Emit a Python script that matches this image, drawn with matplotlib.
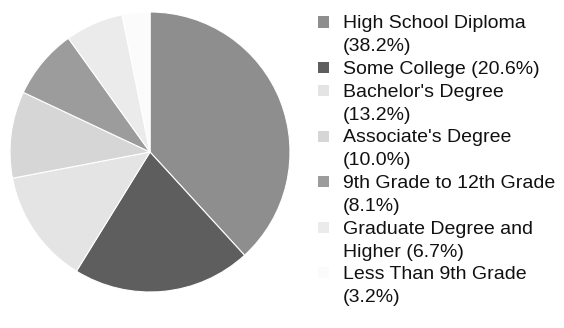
import matplotlib
matplotlib.use("Agg")
import matplotlib.pyplot as plt
from matplotlib.patches import Rectangle

categories = [
    "High School Diploma\n(38.2%)",
    "Some College (20.6%)",
    "Bachelor's Degree\n(13.2%)",
    "Associate's Degree\n(10.0%)",
    "9th Grade to 12th Grade\n(8.1%)",
    "Graduate Degree and\nHigher (6.7%)",
    "Less Than 9th Grade\n(3.2%)",
]
shares = [38.2, 20.6, 13.2, 10.0, 8.1, 6.7, 3.2]
colors = ["#8e8e8e", "#5e5e5e", "#e4e4e4", "#d6d6d6", "#9c9c9c", "#ebebeb", "#fbfbfb"]

plt.rcParams["font.family"] = ["Liberation Sans", "DejaVu Sans"]

W, H = 564, 328
fig = plt.figure(figsize=(W / 100, H / 100), dpi=100)
ax = fig.add_axes([10 / W, 36 / H, 280 / W, 280 / H])
ax.pie(shares, colors=colors, startangle=90, counterclock=False,
       wedgeprops=dict(edgecolor="white", linewidth=0.8))
ax.set_xlim(-1.0, 1.0)
ax.set_ylim(-1.0, 1.0)
ax.set_aspect("equal")
ax.axis("off")

# Legend: swatch beside the first line of each (possibly wrapped) label
line_y = 22.0      # centre of first text line, px from top
line_step = 22.8   # px between text lines
swatch_x, swatch_w = 318, 11
text_x = 343
for label, color in zip(categories, colors):
    lines = label.split("\n")
    fig.patches.append(Rectangle(
        (swatch_x / W, 1 - (line_y + swatch_w / 2) / H),
        swatch_w / W, swatch_w / H, transform=fig.transFigure,
        facecolor=color, edgecolor="none"))
    for ln in lines:
        fig.text(text_x / W, 1 - line_y / H, ln, fontsize=14,
                 ha="left", va="center_baseline", color="#111111")
        line_y += line_step

fig.savefig("out.png", dpi=100)
